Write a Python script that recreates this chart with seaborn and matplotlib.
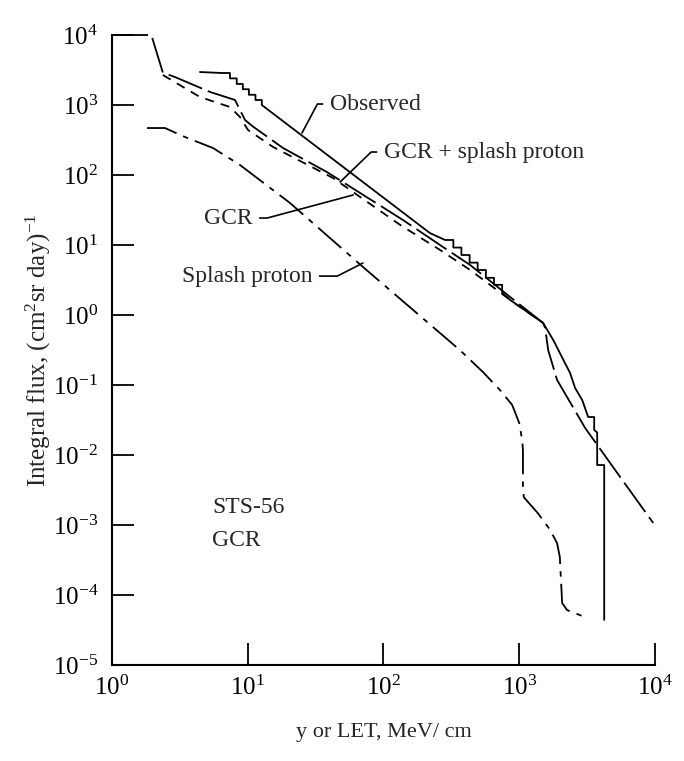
import numpy as np
import matplotlib.pyplot as plt
import seaborn as sns
import pandas as pd

# values (LET in MeV/cm, integral flux per cm2 sr day)
obs_x = [4.45, 6.47, 7.4, 7.4, 8.3, 8.3, 9.2, 9.2, 10.2, 10.2, 11.4, 11.4, 12.7, 12.7,
         220, 284, 327, 327, 375, 375, 431, 431, 494, 494, 568, 568, 652, 652, 748, 748, 857,
         1500, 1780, 2370, 2580, 2910, 3220, 3565, 3565, 3750, 3750, 4225, 4225]
obs_y = [2960, 2865, 2865, 2400, 2400, 2000, 2000, 1680, 1680, 1400, 1400, 1180, 1180, 1000,
         14.8, 11.8, 11.8, 9.2, 9.2, 7.2, 7.2, 5.6, 5.6, 4.4, 4.4, 3.4, 3.4, 2.7, 2.7, 2.1, 1.64,
         0.77, 0.44, 0.148, 0.0906, 0.061, 0.0349, 0.0349, 0.0228, 0.021, 0.0072, 0.0072, 4.4e-5]

gcr_sp_x = [1.0, 1.95, 2.37, 2.91, 5.28, 8.06, 9.55, 10.8, 18.2, 38.4, 139, 261, 435, 857,
            1500, 1552, 1633, 1900, 3060, 5540, 9700]
gcr_sp_y = [10000, 10000, 2900, 2510, 1535, 1180, 611, 501, 243, 110, 22.8, 10.0, 5.18, 1.81,
            0.77, 0.652, 0.316, 0.118, 0.0243, 4.85e-3, 1.07e-3]

gcr_x = [2.37, 4.45, 7.4, 8.77, 10.05, 15.4, 42.5, 133, 261, 435, 857, 1500]
gcr_y = [2683, 1300, 936, 674, 439, 251, 90.6, 19.3, 8.5, 4.4, 1.64, 0.77]

splash_x = [1.81, 2.46, 3.45, 5.55, 8.77, 20.5, 70.6, 365, 541, 720, 887, 1000, 1050, 1065,
            1065, 1080, 1370, 1690, 1900, 1990, 2070, 2250, 3170]
splash_y = [469, 469, 349, 243, 139, 39.8, 4.86, 0.316, 0.153, 0.085, 0.052, 0.0286, 0.0164,
            0.0118, 3.4e-3, 2.5e-3, 1.48e-3, 8.5e-4, 5.5e-4, 3.5e-4, 7.7e-5, 6.1e-5, 4.7e-5]

curves = ['Observed', 'GCR + splash proton', 'GCR', 'Splash proton']
xs = [obs_x, gcr_sp_x, gcr_x, splash_x]
ys = [obs_y, gcr_sp_y, gcr_y, splash_y]

df = pd.concat([pd.DataFrame({'curve': c, 'let': x, 'flux': y})
                for c, x, y in zip(curves, xs, ys)], ignore_index=True)

dash_map = {'Observed': '',
            'GCR + splash proton': (20, 3.5),
            'GCR': (5, 4),
            'Splash proton': (17, 4, 3, 4)}

sns.set_style('ticks')
plt.rcParams['font.family'] = ['Liberation Serif', 'DejaVu Serif']
plt.rcParams['mathtext.fontset'] = 'custom'
plt.rcParams['mathtext.rm'] = 'Liberation Serif'
plt.rcParams['mathtext.it'] = 'Liberation Serif:italic'
plt.rcParams['axes.unicode_minus'] = False

fig = plt.figure(figsize=(6.84, 7.61), dpi=100)
ax = fig.add_axes([0.1637, 0.1261, 0.7939, 0.8279])
ax.set(xscale='log', yscale='log')

sns.lineplot(data=df, x='let', y='flux', style='curve', style_order=curves,
             dashes=dash_map, color='black', lw=1.3, sort=False, estimator=None,
             legend=False, ax=ax)
for ln in ax.lines:
    ln.set_clip_on(False)

ax.set_xlim(1, 1e4)
ax.set_ylim(1e-5, 1e4)
ax.set_xticks([1, 10, 100, 1000, 10000])
ax.set_yticks([10.0 ** k for k in range(-5, 5)])
ax.xaxis.set_minor_locator(plt.NullLocator())
ax.yaxis.set_minor_locator(plt.NullLocator())
ax.tick_params(direction='in', length=15.5, width=1.3, labelsize=18, colors='black')
ax.tick_params(axis='y', pad=10)
ax.tick_params(axis='x', pad=8)
for s in ['top', 'right']:
    ax.spines[s].set_visible(False)
for s in ['left', 'bottom']:
    ax.spines[s].set_linewidth(1.5)
    ax.spines[s].set_color('black')

ax.set_xlabel('y or LET, MeV/ cm', fontsize=16, labelpad=16)
ax.set_ylabel('Integral flux, (cm$^2$sr day)$^{-1}$', fontsize=18, labelpad=0)

# labels with leader lines
lead = dict(arrowstyle='-', color='black', lw=1.2, shrinkA=3, shrinkB=0)
ax.annotate('Observed', xy=(25.1, 398), xytext=(40.4, 1033), fontsize=17,
            ha='left', va='center',
            arrowprops=dict(lead, relpos=(0, 0.5), connectionstyle='angle,angleA=0,angleB=62,rad=0'))
ax.annotate('GCR + splash proton', xy=(47.9, 79.4), xytext=(101, 213), fontsize=17,
            ha='left', va='center',
            arrowprops=dict(lead, relpos=(0, 0.5), connectionstyle='angle,angleA=0,angleB=44,rad=0'))
ax.annotate('GCR', xy=(59.7, 51.8), xytext=(10.8, 24.3), fontsize=17,
            ha='right', va='center',
            arrowprops=dict(lead, relpos=(1, 0.5), connectionstyle='angle,angleA=0,angleB=15,rad=0'))
ax.annotate('Splash proton', xy=(70.6, 5.53), xytext=(29.8, 3.6), fontsize=17,
            ha='right', va='center',
            arrowprops=dict(lead, relpos=(1, 0.5), connectionstyle='angle,angleA=0,angleB=27,rad=0'))

ax.text(5.46, 1.8e-3, 'STS-56', fontsize=17, ha='left', va='center')
ax.text(5.46, 6.1e-4, 'GCR', fontsize=17, ha='left', va='center')

fig.savefig('out.png', dpi=100)
